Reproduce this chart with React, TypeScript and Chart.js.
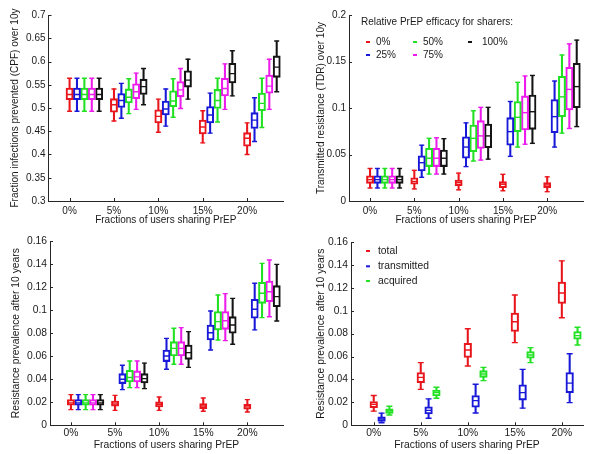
import React, { useEffect, useRef } from 'react';
import { Chart, registerables } from 'chart.js';
Chart.register(...registerables);

// ---------- data ----------
const groupLabels = ['0%', '5%', '10%', '15%', '20%'];
const efficacyLabels = ['0%', '25%', '50%', '75%', '100%'];
const efficacyColors = ['#e8161c', '#1818d8', '#22e022', '#ec1cec', '#141414'];
const resistLabels = ['total', 'transmitted', 'acquired'];
const resistColors = ['#e8161c', '#1818d8', '#22e022'];

// each entry: [low whisker, q1, median, q3, high whisker] for 0%,5%,10%,15%,20%
const cpfEff0 = [[0.493, 0.518, 0.529, 0.543, 0.564], [0.472, 0.491, 0.507, 0.520, 0.541], [0.448, 0.468, 0.482, 0.496, 0.519], [0.425, 0.444, 0.459, 0.474, 0.494], [0.400, 0.418, 0.435, 0.447, 0.468]];
const cpfEff25 = [[0.493, 0.518, 0.529, 0.543, 0.564], [0.478, 0.501, 0.516, 0.531, 0.553], [0.461, 0.485, 0.498, 0.515, 0.541], [0.446, 0.468, 0.485, 0.503, 0.532], [0.428, 0.456, 0.474, 0.490, 0.522]];
const cpfEff50 = [[0.493, 0.518, 0.529, 0.543, 0.564], [0.488, 0.511, 0.523, 0.541, 0.563], [0.480, 0.503, 0.515, 0.537, 0.563], [0.470, 0.499, 0.516, 0.540, 0.564], [0.458, 0.494, 0.510, 0.532, 0.564]];
const cpfEff75 = [[0.493, 0.518, 0.529, 0.543, 0.564], [0.497, 0.520, 0.535, 0.552, 0.575], [0.499, 0.524, 0.539, 0.557, 0.585], [0.497, 0.526, 0.542, 0.564, 0.595], [0.497, 0.532, 0.547, 0.571, 0.605]];
const cpfEff100 = [[0.493, 0.518, 0.529, 0.543, 0.564], [0.507, 0.529, 0.546, 0.562, 0.585], [0.519, 0.545, 0.560, 0.580, 0.605], [0.526, 0.554, 0.574, 0.596, 0.623], [0.535, 0.566, 0.588, 0.612, 0.644]];

const tdrEff0 = [[0.014, 0.019, 0.023, 0.027, 0.035], [0.013, 0.018, 0.021, 0.025, 0.033], [0.012, 0.0165, 0.0197, 0.0226, 0.030], [0.011, 0.0143, 0.018, 0.0208, 0.0287], [0.010, 0.0143, 0.0172, 0.0197, 0.026]];
const tdrEff25 = [[0.014, 0.019, 0.023, 0.027, 0.035], [0.0255, 0.0323, 0.0412, 0.0487, 0.060], [0.037, 0.046, 0.058, 0.069, 0.084], [0.048, 0.060, 0.0746, 0.0896, 0.107], [0.058, 0.0735, 0.0907, 0.109, 0.129]];
const tdrEff50 = [[0.014, 0.019, 0.023, 0.027, 0.035], [0.029, 0.037, 0.046, 0.0566, 0.0674], [0.043, 0.053, 0.0674, 0.0817, 0.097], [0.058, 0.0746, 0.090, 0.107, 0.1276], [0.073, 0.0907, 0.112, 0.134, 0.157]];
const tdrEff75 = [[0.014, 0.019, 0.023, 0.027, 0.035], [0.029, 0.037, 0.046, 0.0566, 0.068], [0.044, 0.0566, 0.070, 0.0864, 0.1007], [0.061, 0.0763, 0.095, 0.113, 0.1344], [0.078, 0.098, 0.120, 0.1437, 0.169]];
const tdrEff100 = [[0.014, 0.019, 0.023, 0.027, 0.035], [0.029, 0.037, 0.046, 0.0548, 0.067], [0.045, 0.0573, 0.070, 0.0828, 0.1007], [0.062, 0.0771, 0.096, 0.114, 0.135], [0.080, 0.1003, 0.123, 0.148, 0.173]];

const prevEff0 = [[0.0136, 0.0174, 0.0195, 0.0223, 0.0266], [0.013, 0.0165, 0.0185, 0.021, 0.026], [0.013, 0.0159, 0.0182, 0.0203, 0.0246], [0.0122, 0.0145, 0.0168, 0.0188, 0.0237], [0.0116, 0.0139, 0.016, 0.0182, 0.0223]];
const prevEff25 = [[0.0136, 0.0174, 0.0195, 0.0223, 0.0266], [0.031, 0.0362, 0.040, 0.0448, 0.0521], [0.0486, 0.0553, 0.0602, 0.0654, 0.0755], [0.0654, 0.0741, 0.0804, 0.0871, 0.0992], [0.0828, 0.0929, 0.1007, 0.1094, 0.1233]];
const prevEff50 = [[0.0136, 0.0174, 0.0195, 0.0223, 0.0266], [0.0327, 0.0376, 0.0415, 0.0477, 0.0558], [0.053, 0.0602, 0.0668, 0.0726, 0.0842], [0.0741, 0.0828, 0.090, 0.0987, 0.1131], [0.0935, 0.1059, 0.1146, 0.1241, 0.1406]];
const prevEff75 = [[0.0136, 0.0174, 0.0195, 0.0223, 0.0266], [0.0327, 0.0376, 0.042, 0.0472, 0.0558], [0.053, 0.0602, 0.0668, 0.0726, 0.0848], [0.0735, 0.0833, 0.0908, 0.0987, 0.1143], [0.0943, 0.1073, 0.116, 0.1253, 0.1435]];
const prevEff100 = [[0.0136, 0.0174, 0.0195, 0.0223, 0.0266], [0.0318, 0.0367, 0.0405, 0.0448, 0.054], [0.0503, 0.0573, 0.0631, 0.0697, 0.0813], [0.0703, 0.0799, 0.0871, 0.0943, 0.1102], [0.0906, 0.103, 0.1117, 0.1212, 0.1397]];

const resTotal = [[0.0124, 0.0154, 0.0183, 0.0208, 0.026], [0.0314, 0.0372, 0.0418, 0.046, 0.0547], [0.0518, 0.0593, 0.0657, 0.0715, 0.0843], [0.0722, 0.082, 0.0904, 0.0979, 0.1137], [0.0939, 0.1064, 0.1155, 0.125, 0.1435]];
const resTransmitted = [[0.0022, 0.0033, 0.0055, 0.0075, 0.0106], [0.0062, 0.0099, 0.013, 0.0162, 0.0231], [0.0107, 0.0158, 0.0215, 0.026, 0.0358], [0.015, 0.022, 0.0285, 0.0353, 0.0488], [0.0198, 0.0285, 0.0368, 0.046, 0.0624]];
const resAcquired = [[0.009, 0.0104, 0.0125, 0.0143, 0.0166], [0.0236, 0.0256, 0.0285, 0.0308, 0.0332], [0.039, 0.0419, 0.0448, 0.0477, 0.0506], [0.0547, 0.0585, 0.0614, 0.0643, 0.0678], [0.0701, 0.0751, 0.0783, 0.0818, 0.0856]];

const yTicksCPF = [0.3, 0.35, 0.4, 0.45, 0.5, 0.55, 0.6, 0.65, 0.7];
const yTicksTDR = [0, 0.05, 0.1, 0.15, 0.2];
const yTicksPrev = [0, 0.02, 0.04, 0.06, 0.08, 0.1, 0.12, 0.14, 0.16];

const xTitle = 'Fractions of users sharing PrEP';
const legendTitleEff = 'Relative PrEP efficacy for sharers:';

// ---------- styling ----------
const FONT = "'Liberation Sans', Arial, Helvetica, sans-serif";
const AXIS = '#262626';
const TEXT = '#1a1a1a';
const GROUP_STEP = 6;
const posOf = (g: number, s: number) => 1 + GROUP_STEP * g + s;
const fmtTick = (v: number) => String(parseFloat(Number(v).toFixed(4)));

function boxDatasets(series: number[][][], colors: string[], boxW: number, capR: number) {
  const ds: any[] = [];
  series.forEach((stats, s) => {
    const color = colors[s];
    const whiskers: any[] = [];
    const boxes: any[] = [];
    const caps: any[] = [];
    const medians: any[] = [];
    stats.forEach((st, g) => {
      const x = posOf(g, s);
      whiskers.push({ x, y: [st[0], st[1]] }, { x, y: [st[3], st[4]] });
      boxes.push({ x, y: [st[1], st[3]] });
      caps.push({ x, y: st[0] }, { x, y: st[4] });
      medians.push({ x, y: st[2] });
    });
    ds.push({ type: 'bar', data: whiskers, backgroundColor: color, borderWidth: 0, maxBarThickness: 1.4, barPercentage: 1, categoryPercentage: 1, grouped: false, order: 3 });
    ds.push({ type: 'bar', data: boxes, backgroundColor: 'rgba(0,0,0,0)', borderColor: color, borderWidth: 1.4, borderSkipped: false, maxBarThickness: boxW, barPercentage: 1, categoryPercentage: 1, grouped: false, order: 2 });
    ds.push({ type: 'scatter', data: caps, pointStyle: 'line', pointRadius: capR, borderColor: color, borderWidth: 1.4, order: 1 });
    ds.push({ type: 'scatter', data: medians, pointStyle: 'line', pointRadius: boxW / 2 - 0.4, borderColor: color, borderWidth: 1.4, order: 1 });
  });
  return ds;
}

const inwardTicks = {
  id: 'inwardTicks',
  afterDraw(chart: any) {
    const { ctx, chartArea, scales } = chart;
    const x = scales.x, y = scales.y;
    ctx.save();
    ctx.strokeStyle = AXIS;
    ctx.lineWidth = 1;
    x.ticks.forEach((t: any) => {
      const px = Math.round(x.getPixelForValue(t.value)) + 0.5;
      ctx.beginPath();
      ctx.moveTo(px, chartArea.bottom);
      ctx.lineTo(px, chartArea.bottom - 3);
      ctx.stroke();
    });
    y.ticks.forEach((t: any) => {
      const py = Math.round(y.getPixelForValue(t.value)) + 0.5;
      ctx.beginPath();
      ctx.moveTo(chartArea.left, py);
      ctx.lineTo(chartArea.left + 3, py);
      ctx.stroke();
    });
    ctx.restore();
  },
};

function makeLegendPlugin(leg: any) {
  return {
    id: 'boxLegend',
    afterDraw(chart: any) {
      if (!leg) return;
      const { ctx } = chart;
      ctx.save();
      ctx.font = `${leg.fontSize}px ${FONT}`;
      ctx.textBaseline = 'middle';
      ctx.textAlign = 'left';
      ctx.fillStyle = TEXT;
      if (leg.title) ctx.fillText(leg.title, leg.titleX, leg.titleY);
      leg.labels.forEach((label: string, i: number) => {
        const col = Math.floor(i / leg.rows);
        const row = i % leg.rows;
        const mx = leg.colMarkerX[col];
        const tx = leg.colTextX[col];
        const yy = leg.rowY[row];
        ctx.strokeStyle = leg.colors[i];
        ctx.lineWidth = 2;
        ctx.beginPath();
        ctx.moveTo(mx - 2, yy);
        ctx.lineTo(mx + 2, yy);
        ctx.stroke();
        ctx.fillStyle = TEXT;
        ctx.fillText(label, tx, yy);
      });
      ctx.restore();
    },
  };
}

function buildConfig(p: any) {
  const font = { family: FONT, size: p.fontSize };
  return {
    type: 'bar',
    data: { datasets: p.datasets },
    plugins: [inwardTicks, makeLegendPlugin(p.legend)],
    options: {
      animation: false,
      responsive: false,
      devicePixelRatio: 1,
      events: [],
      layout: { padding: { left: 0, right: p.padRight, top: p.padTop, bottom: 0 } },
      plugins: { legend: { display: false }, tooltip: { enabled: false } },
      scales: {
        x: {
          type: 'linear',
          min: p.xMin,
          max: p.xMax,
          offset: false,
          grid: { display: false, drawTicks: false },
          border: { display: true, color: AXIS, width: 1 },
          afterBuildTicks: (s: any) => { s.ticks = groupLabels.map((_, g) => ({ value: posOf(g, 0) })); },
          ticks: { callback: (_v: any, i: number) => groupLabels[i], font, color: TEXT, padding: p.xTickPad, autoSkip: false, maxRotation: 0 },
          title: { display: true, text: xTitle, font, color: TEXT, padding: { top: 0, bottom: p.xTitlePad } },
          afterFit: (s: any) => { s.height = p.xHeight; },
        },
        y: {
          type: 'linear',
          min: p.yTicks[0],
          max: p.yTicks[p.yTicks.length - 1],
          grid: { display: false, drawTicks: false },
          border: { display: true, color: AXIS, width: 1 },
          afterBuildTicks: (s: any) => { s.ticks = p.yTicks.map((v: number) => ({ value: v })); },
          ticks: { callback: (v: any) => fmtTick(v), font, color: TEXT, padding: 3 },
          title: { display: true, text: p.yTitle, font, color: TEXT, padding: { top: p.yTitlePad, bottom: 0 } },
          afterFit: (s: any) => { s.width = p.yWidth; },
        },
      },
    },
  };
}

const panels = [
  {
    left: 0, top: 0,
    datasets: boxDatasets([cpfEff0, cpfEff25, cpfEff50, cpfEff75, cpfEff100], efficacyColors, 7.2, 2.5),
    yTicks: yTicksCPF, yTitle: 'Fraction infections prevented (CPF) over 10y',
    xMin: -1.85, xMax: 29.85, yWidth: 48.5, padTop: 15, padRight: 17, xHeight: 26, xTickPad: 4, xTitlePad: 1, yTitlePad: 9, fontSize: 10,
    legend: null,
  },
  {
    left: 300, top: 0,
    datasets: boxDatasets([tdrEff0, tdrEff25, tdrEff50, tdrEff75, tdrEff100], efficacyColors, 7.2, 2.5),
    yTicks: yTicksTDR, yTitle: 'Transmitted resistance (TDR) over 10y',
    xMin: -1.85, xMax: 29.85, yWidth: 49, padTop: 15, padRight: 17, xHeight: 26, xTickPad: 4, xTitlePad: 1, yTitlePad: 15.5, fontSize: 10,
    legend: { fontSize: 10, title: legendTitleEff, titleX: 61, titleY: 22, labels: efficacyLabels, colors: efficacyColors, rows: 2, colMarkerX: [68, 115, 170], colTextX: [76, 123, 182], rowY: [42, 55] },
  },
  {
    left: 0, top: 227,
    datasets: boxDatasets([prevEff0, prevEff25, prevEff50, prevEff75, prevEff100], efficacyColors, 7.2, 2.5),
    yTicks: yTicksPrev, yTitle: 'Resistance prevalence after 10 years',
    xMin: -1.85, xMax: 29.85, yWidth: 50, padTop: 14, padRight: 17, xHeight: 28.7, xTickPad: 1.5, xTitlePad: 2.5, yTitlePad: 10, fontSize: 10.3,
    legend: null,
  },
  {
    left: 300, top: 227,
    datasets: boxDatasets([resTotal, resTransmitted, resAcquired], resistColors, 7.6, 3),
    yTicks: yTicksPrev, yTitle: 'Resistance prevalence after 10 years',
    xMin: -1.9, xMax: 27.7, yWidth: 51, padTop: 15, padRight: 17, xHeight: 28.7, xTickPad: 1.5, xTitlePad: 2.5, yTitlePad: 14.5, fontSize: 10.3,
    legend: { fontSize: 10.3, title: '', titleX: 0, titleY: 0, labels: resistLabels, colors: resistColors, rows: 3, colMarkerX: [68], colTextX: [78], rowY: [24, 39.3, 54] },
  },
];

function Panel({ p }: { p: any }) {
  const ref = useRef<HTMLCanvasElement>(null);
  useEffect(() => {
    const chart = new Chart(ref.current as HTMLCanvasElement, buildConfig(p) as any);
    return () => chart.destroy();
  }, []);
  return (
    <div style={{ position: 'absolute', left: p.left, top: p.top, width: 300, height: 227 }}>
      <canvas ref={ref} width={300} height={227} style={{ display: 'block', width: 300, height: 227 }} />
    </div>
  );
}

export default function App() {
  return (
    <div style={{ position: 'absolute', left: 0, top: 0, width: 600, height: 454, background: '#ffffff', overflow: 'hidden' }}>
      {panels.map((p, i) => <Panel key={i} p={p} />)}
    </div>
  );
}
